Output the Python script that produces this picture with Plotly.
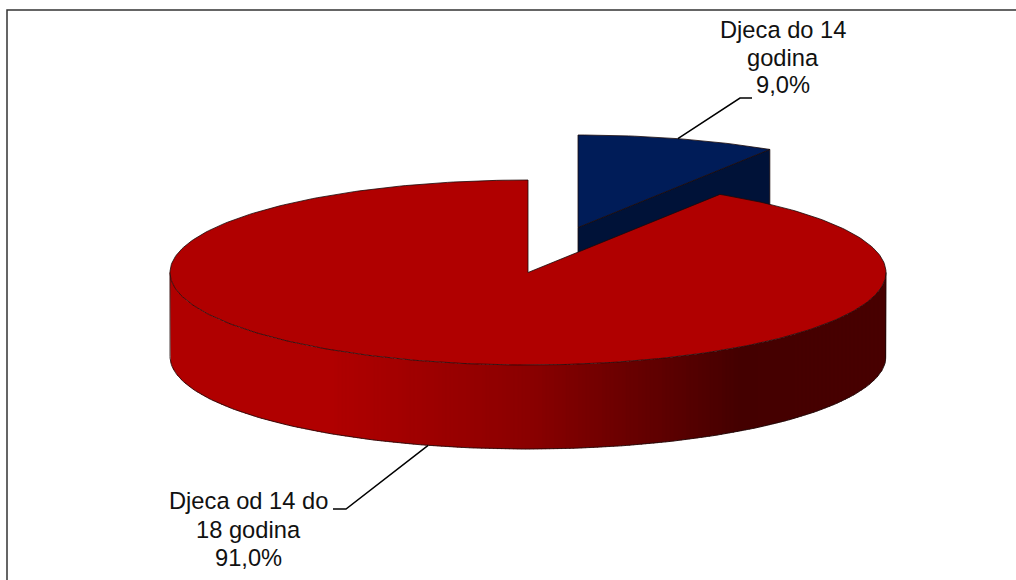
import math
import plotly.graph_objects as go

categories = ["Djeca do 14 godina", "Djeca od 14 do 18 godina"]
values = [9.0, 91.0]
label_lines = [["Djeca do 14", "godina", "9,0%"], ["Djeca od 14 do", "18 godina", "91,0%"]]

W, H = 1016, 580
CX, CY, RX, RY, DEPTH = 528.0, 272.5, 358.0, 92.5, 84.0
EXPLODE = (50.0, -45.0)
RED, BLUE, BLUE_DARK = "#b00000", "#001c58", "#001238"
EDGE = "#1a0a0a"


def point(deg, cx=CX, cy=CY, dz=0.0):
    a = math.radians(deg)
    return cx + RX * math.sin(a), cy - RY * math.cos(a) + dz


def arc(a0, a1, cx=CX, cy=CY, dz=0.0, step=1.0):
    n = max(2, int(abs(a1 - a0) / step) + 1)
    pts = [point(a0 + (a1 - a0) * i / (n - 1), cx, cy, dz) for i in range(n)]
    return [p[0] for p in pts], [p[1] for p in pts]


def wall_color(x):
    stops = [(170, (176, 0, 0)), (330, (176, 0, 0)), (530, (138, 0, 0)), (740, (68, 0, 0)), (886, (72, 0, 0))]
    for (x0, c0), (x1, c1) in zip(stops, stops[1:]):
        if x <= x1:
            t = max(0.0, (x - x0) / (x1 - x0))
            return "rgb(%d,%d,%d)" % tuple(round(a + (b - a) * t) for a, b in zip(c0, c1))
    return "rgb(72,0,0)"


def angle_at_x(x):
    s = max(-1.0, min(1.0, (x - CX) / RX))
    return 180.0 - math.degrees(math.asin(s))


def poly(fig, xs, ys, fill, line=EDGE, width=0.8):
    fig.add_trace(go.Scatter(x=xs, y=ys, mode="lines", fill="toself", fillcolor=fill,
                             line=dict(color=line, width=width), hoverinfo="skip", showlegend=False))


total = sum(values)
sweep = [v / total * 360.0 for v in values]
blue_end = sweep[0]
bx, by = CX + EXPLODE[0], CY + EXPLODE[1]

fig = go.Figure()

# Chart frame
fig.add_trace(go.Scatter(x=[7, 7, W], y=[H, 10, 10], mode="lines", line=dict(color="#333333", width=1.5),
                         hoverinfo="skip", showlegend=False))

# Exploded small slice: cut face first, then top
ex, ey = point(blue_end, bx, by)
poly(fig, [bx, ex, ex, bx, bx], [by, ey, ey + DEPTH, by + DEPTH, by], BLUE_DARK)
ax, ay = arc(0, blue_end, bx, by)
poly(fig, [bx] + ax + [bx], [by] + ay + [by], BLUE)

# Large slice: outer wall as gradient strips of equal width on screen
strip = 4.0
x_right = CX + RX
x_left = CX - RX
x = x_right
while x > x_left:
    x_next = max(x - strip - 0.8, x_left)
    a0, a1 = angle_at_x(x), angle_at_x(x_next)
    tx, ty = arc(a0, a1, step=0.25)
    lx, ly = arc(a1, a0, dz=DEPTH, step=0.25)
    c = wall_color((x + x_next) / 2)
    poly(fig, tx + lx + tx[:1], ty + ly + ty[:1], c, line=c, width=0.3)
    x -= strip

# Wall outline
lx, ly = arc(90, 270, dz=DEPTH)
rx0, ry0 = point(90)
lx0, ly0 = point(270)
fig.add_trace(go.Scatter(x=[rx0] + lx + [lx0], y=[ry0] + ly + [ly0], mode="lines",
                         line=dict(color=EDGE, width=0.8), hoverinfo="skip", showlegend=False))

# Large slice: top
tx, ty = arc(blue_end, 360.0)
poly(fig, [CX] + tx + [CX], [CY] + ty + [CY], RED)

# Leader lines and labels
mid_blue = blue_end / 2
mid_red = blue_end + sweep[1] / 2
p0 = point(mid_blue, bx, by)
p1 = point(mid_red, dz=DEPTH)
fig.add_trace(go.Scatter(x=[p0[0], 740, 752], y=[p0[1], 98, 98], mode="lines",
                         line=dict(color="#000000", width=1.5), hoverinfo="skip", showlegend=False))
fig.add_trace(go.Scatter(x=[p1[0], 346, 333], y=[p1[1], 509, 509], mode="lines",
                         line=dict(color="#000000", width=1.5), hoverinfo="skip", showlegend=False))

label_pos = [(783, [30, 58, 85]), (248, [501, 530, 558])]
annotations = []
for lines, (lab_x, ys) in zip(label_lines, label_pos):
    for text, y in zip(lines, ys):
        annotations.append(dict(x=lab_x, y=y, text=text, showarrow=False, xanchor="center", yanchor="middle",
                                font=dict(family="Liberation Sans", size=23.7, color="#111111")))

fig.update_layout(
    width=W, height=H, margin=dict(l=0, r=0, t=0, b=0), autosize=False,
    paper_bgcolor="white", plot_bgcolor="white", showlegend=False, annotations=annotations,
    xaxis=dict(range=[0, W], visible=False, fixedrange=True),
    yaxis=dict(range=[H, 0], visible=False, fixedrange=True),
)
fig.write_html("out.html", config={"displayModeBar": False},
               post_script="document.body.style.margin='0';document.body.style.overflow='hidden';")
